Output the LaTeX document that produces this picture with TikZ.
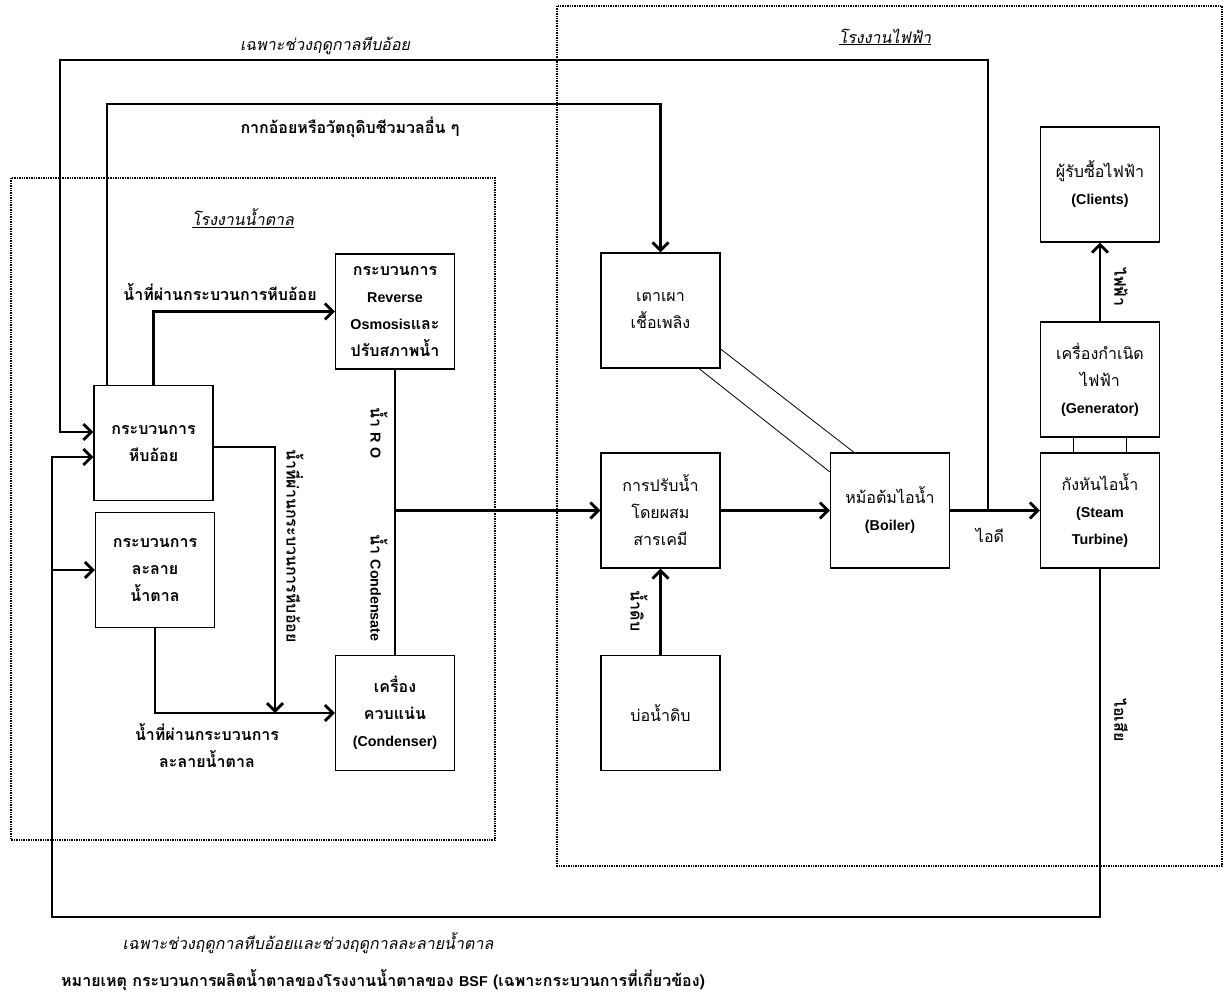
\documentclass[tikz,border=0pt]{standalone}
\usepackage{fontspec}
\setmainfont{Loma}[Script=Thai,AutoFakeSlant=0.2]
\newfontfamily\enf{Liberation Sans}
\newcommand\en{\enf\fontsize{14.3}{27}\selectfont}
\usetikzlibrary{arrows.meta}
\tikzset{
  box/.style={draw, line width=1.2pt, minimum width=119pt, minimum height=115pt,
    align=center, inner sep=2pt, font=\fontsize{16}{27}\selectfont\bfseries},
  rbox/.style={box, font=\fontsize{16}{27}\selectfont},
  flow/.style={line width=2.8pt, -{Straight Barb[length=8pt,width=16pt]}},
  plain/.style={line width=2.8pt},
  thinl/.style={line width=0.8pt},
  zone/.style={line width=1.5pt, dash pattern=on 1.4pt off 1pt},
  lab/.style={font=\fontsize{16}{27}\selectfont\bfseries, align=center, inner sep=1pt},
  rlab/.style={font=\fontsize{16}{27}\selectfont, align=center, inner sep=1pt},
  ilab/.style={font=\fontsize{16}{27}\selectfont\itshape, align=center, inner sep=1pt},
}
\begin{document}
\begin{tikzpicture}[x=1pt,y=-1pt]
\useasboundingbox (0,0) rectangle (1225,995);
% zones
\draw[zone] (11,178) rectangle (495,840);
\draw[zone] (557,6) rectangle (1222,866);
\node[ilab] (tsugar) at (243,218) {\underline{โรงงานน้ำตาล}};
\node[ilab] (tpower) at (885,37) {\underline{โรงงานไฟฟ้า}};
% boxes
\node[box] (crush) at (153.5,443) {กระบวนการ\\หีบอ้อย};
\node[box] (diss) at (155,570) {กระบวนการ\\ละลาย\\น้ำตาล};
\node[box] (ro) at (395,311.5) {กระบวนการ\\{\en\bfseries Reverse}\\{\en\bfseries Osmosis}และ\\ปรับสภาพน้ำ};
\node[box] (cond) at (395,713) {เครื่อง\\ควบแน่น\\{\en\bfseries (Condenser)}};
\node[rbox] (furn) at (660.5,310.5) {เตาเผา\\เชื้อเพลิง};
\node[rbox] (chem) at (660.5,510.5) {การปรับน้ำ\\โดยผสม\\สารเคมี};
\node[rbox] (pond) at (660.5,713) {บ่อน้ำดิบ};
\node[rbox] (boil) at (890,510.5) {หม้อต้มไอน้ำ\\{\en\bfseries (Boiler)}};
\node[rbox] (turb) at (1100,510.5) {กังหันไอน้ำ\\{\en\bfseries (Steam}\\{\en\bfseries Turbine)}};
\node[rbox] (gen) at (1100,379.5) {เครื่องกำเนิด\\ไฟฟ้า\\{\en\bfseries (Generator)}};
\node[rbox] (cli) at (1100,184.5) {ผู้รับซื้อไฟฟ้า\\{\en\bfseries (Clients)}};
% coordinates
\coordinate (j1) at (988,510.5);
\coordinate (t1) at (60,60);
\coordinate (t2) at (0,104);
\coordinate (m1) at (275,713);
\coordinate (lb) at (52,917);
% top season loop
\draw[flow] (j1) |- (t1) |- ([yshift=11pt]crush.west);
\node[ilab] (lseason) at (325,46) {เฉพาะช่วงฤดูกาลหีบอ้อย};
% bagasse
\draw[flow] ([xshift=-46.5pt]crush.north) |- (furn.north |- t2) -- (furn.north);
\node[lab] (lbag) at (350,127) {กากอ้อยหรือวัตถุดิบชีวมวลอื่น ๆ};
% sugar water flows
\draw[flow] (crush.north) |- (ro.west);
\node[lab] (lcw1) at (220,292) {น้ำที่ผ่านกระบวนการหีบอ้อย};
\draw[flow] ([yshift=-4pt]crush.east) -| (m1);
\node[lab, rotate=-90] (lcw2) at (295,546) {น้ำที่ผ่านกระบวนการหีบอ้อย};
\draw[flow] (diss.south) |- (cond.west);
\node[lab] (ldw) at (207,746) {น้ำที่ผ่านกระบวนการ\\ละลายน้ำตาล};
\draw[plain] (ro.south) -- (cond.north);
\node[lab, rotate=-90] (lro) at (379,433) {น้ำ {\en\bfseries R O}};
\node[lab, rotate=-90] (lcd) at (379,588) {น้ำ {\en\bfseries Condensate}};
\draw[flow] (ro.south |- chem.west) -- (chem.west);
% power plant flows
\draw[flow] (chem) -- (boil);
\draw[flow] (boil) -- (turb);
\node[rlab] (lsteam) at (990,535) {ไอดี};
\draw[flow] (pond) -- (chem);
\node[lab, rotate=-90] (lraw) at (639,611) {น้ำดิบ};
\draw[flow] (gen) -- (cli);
\node[lab, rotate=-90] (lelec) at (1121,287) {ไฟฟ้า};
\draw[thinl] ([xshift=-27pt]gen.south) -- ([xshift=-27pt]turb.north);
\draw[thinl] ([xshift=26pt]gen.south) -- ([xshift=26pt]turb.north);
\draw[thinl] ([yshift=-38.5pt]furn.east) -- ([xshift=-36pt]boil.north);
\draw[thinl] ([xshift=38.5pt]furn.south) -- ([yshift=38.5pt]boil.west);
% exhaust loop
\draw[flow] (turb.south) |- (lb) |- ([yshift=-14pt]crush.west);
\draw[flow] (lb |- diss.west) -- (diss.west);
\node[lab, rotate=-90] (lexh) at (1121,720) {ไอเสีย};
\node[ilab] (lseason2) at (308,943) {เฉพาะช่วงฤดูกาลหีบอ้อยและช่วงฤดูกาลละลายน้ำตาล};
\node[lab, anchor=west] (note) at (60,980) {หมายเหตุ กระบวนการผลิตน้ำตาลของโรงงานน้ำตาลของ {\en\bfseries BSF} (เฉพาะกระบวนการที่เกี่ยวข้อง)};
\end{tikzpicture}
\end{document}
